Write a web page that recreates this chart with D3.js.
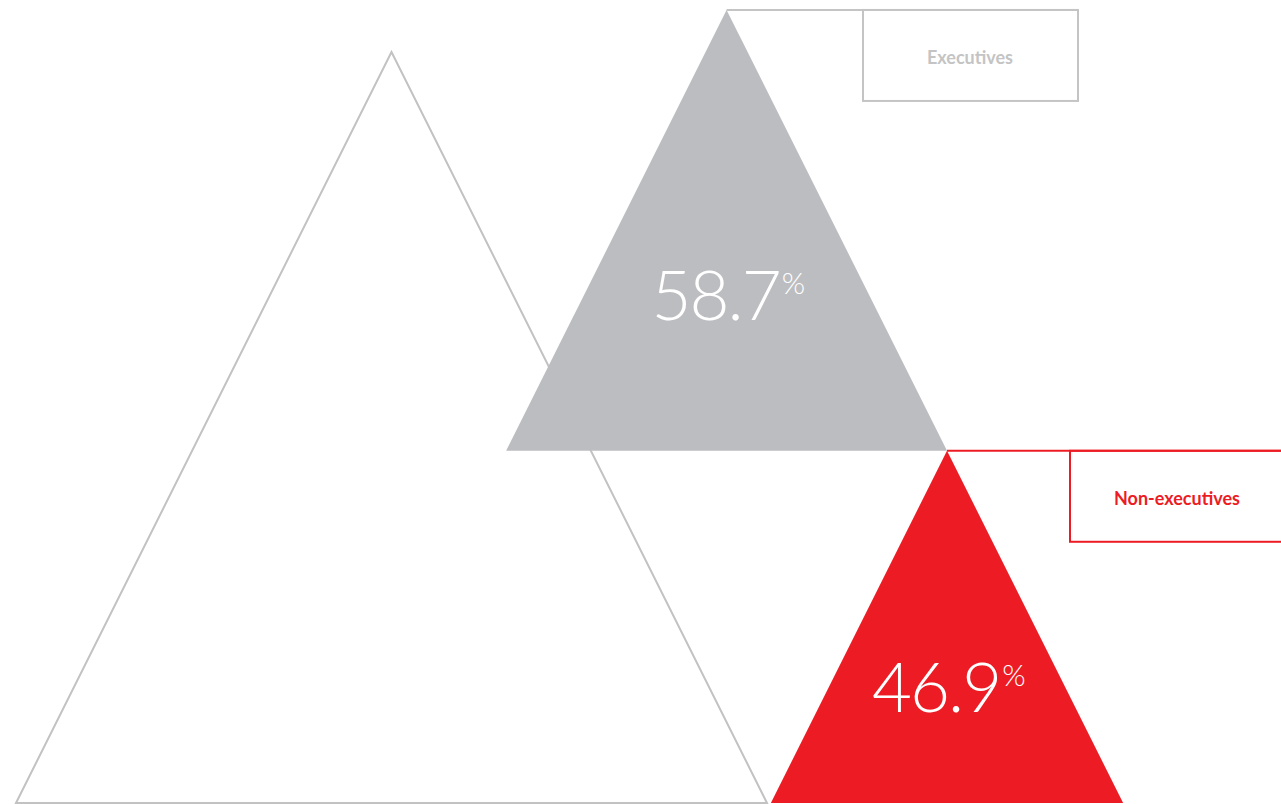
<!DOCTYPE html>
<html>
<head>
<meta charset="utf-8">
<script src="https://cdn.jsdelivr.net/npm/d3@7"></script>
<style>
  html, body { margin: 0; padding: 0; background: #fff; }
  svg { display: block; }
</style>
</head>
<body>
<script>
// Share of board members, by role (percent of a full triangle = 100%)
const categories = ["Executives", "Non-executives"];
const values = [58.7, 46.9];
const fills = ["#bcbdc0", "#ed1c24"];
const strokes = ["#c4c4c4", "#ed1c24"];

const W = 1281, H = 804;
const svg = d3.select("body").append("svg")
  .attr("width", W).attr("height", H);

const bottom = 803;
const full = 751;
// percent -> triangle height (triangles are as wide as they are tall)
const h = d3.scaleLinear().domain([0, 100]).range([0, full]);

function tri(cx, baseY, height) {
  const half = height / 2;
  return [[cx - half, baseY], [cx, baseY - height], [cx + half, baseY]];
}
const line = d3.line();

// reference triangle (100%)
svg.append("path")
  .attr("d", line(tri(391.5, bottom, h(100))) + "Z")
  .attr("fill", "none")
  .attr("stroke", "#c2c2c2")
  .attr("stroke-width", 2);

// placement: red triangle's apex meets the grey triangle's right corner
const redCx = 947;
const redH = h(values[1]);
const greyBase = bottom - redH;
const greyH = h(values[0]);
const greyCx = redCx - greyH / 2;

const shapes = [
  { cx: greyCx, base: greyBase, height: greyH, labelDy: -131 },
  { cx: redCx, base: bottom, height: redH, labelDy: -91 }
];

// legend boxes tied to each triangle's apex
const boxes = [
  { x: 863, w: 215, h: 91, tx: 970 },
  { x: 1070, w: 240, h: 91, tx: 1177 }
];

shapes.forEach((s, i) => {
  const pts = tri(s.cx, s.base, s.height);
  svg.append("path")
    .attr("d", line(pts) + "Z")
    .attr("fill", fills[i]);

  const apexY = s.base - s.height;
  const b = boxes[i];
  // leader from apex along the box top
  svg.append("line")
    .attr("x1", s.cx).attr("x2", b.x + b.w)
    .attr("y1", apexY).attr("y2", apexY)
    .attr("stroke", strokes[i]).attr("stroke-width", 2);
  svg.append("rect")
    .attr("x", b.x).attr("y", apexY)
    .attr("width", b.w).attr("height", b.h)
    .attr("fill", "none")
    .attr("stroke", strokes[i]).attr("stroke-width", 2);
  svg.append("text")
    .attr("x", b.tx)
    .attr("y", apexY + b.h / 2 + 9)
    .attr("text-anchor", "middle")
    .attr("font-family", "Lato, 'Open Sans', sans-serif")
    .attr("font-weight", 700)
    .attr("font-size", 18)
    .attr("fill", strokes[i])
    .text(categories[i]);

  // value label inside the triangle
  const t = svg.append("text")
    .attr("x", s.cx - 75)
    .attr("y", s.base + s.labelDy)
    .attr("font-family", "Lato, sans-serif")
    .attr("font-weight", 300)
    .attr("fill", "#fff");
  t.append("tspan")
    .attr("font-size", 69)
    .attr("letter-spacing", -2)
    .text(values[i].toFixed(1));
  t.append("tspan")
    .attr("font-size", 30)
    .attr("dx", 2)
    .attr("dy", -26)
    .text("%");
});
</script>
</body>
</html>
